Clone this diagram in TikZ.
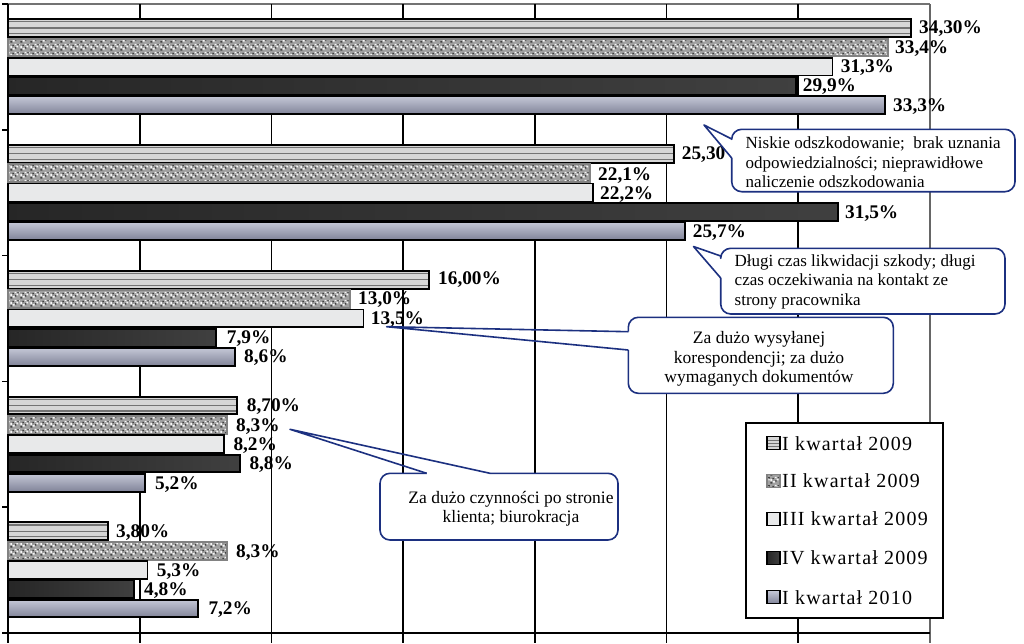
\documentclass[tikz,border=0pt]{standalone}
\usepackage{fontspec}
\setmainfont{Liberation Serif}
\newfontfamily\legfont[LetterSpace=6]{Liberation Serif}
\usetikzlibrary{patterns.meta}
\definecolor{calloutblue}{RGB}{28,48,128}
\definecolor{sAfill}{RGB}{214,214,214}
\definecolor{sBfill}{RGB}{160,160,160}
\definecolor{sBline}{RGB}{130,130,130}
\definecolor{sCfill}{RGB}{232,233,234}
\definecolor{sEtop}{RGB}{196,199,214}
\definecolor{sEmid}{RGB}{238,239,244}
\definecolor{sEbot}{RGB}{128,131,152}
\pgfdeclarepattern{
  name=granite, type=colored,
  bottom left={\pgfpoint{0pt}{0pt}}, top right={\pgfpoint{10pt}{8pt}},
  tile size={\pgfpoint{10pt}{8pt}},
  code={
    \pgfsetfillcolor{black!75}
    \pgfpathrectangle{\pgfpoint{0.5pt}{0.5pt}}{\pgfpoint{2pt}{1.6pt}}
    \pgfpathrectangle{\pgfpoint{5.5pt}{2.5pt}}{\pgfpoint{1.5pt}{1.8pt}}
    \pgfpathrectangle{\pgfpoint{2.5pt}{5.2pt}}{\pgfpoint{1.8pt}{1.4pt}}
    \pgfpathrectangle{\pgfpoint{8pt}{6pt}}{\pgfpoint{1.5pt}{1.5pt}}
    \pgfusepath{fill}
    \pgfsetfillcolor{white!92!gray}
    \pgfpathrectangle{\pgfpoint{3pt}{1.5pt}}{\pgfpoint{2.2pt}{1.6pt}}
    \pgfpathrectangle{\pgfpoint{7pt}{4pt}}{\pgfpoint{2pt}{1.8pt}}
    \pgfpathrectangle{\pgfpoint{0.5pt}{3.5pt}}{\pgfpoint{1.6pt}{1.8pt}}
    \pgfpathrectangle{\pgfpoint{5pt}{6.3pt}}{\pgfpoint{1.9pt}{1.4pt}}
    \pgfusepath{fill}
  }
}
\tikzset{
  fA/.style={fill=sAfill},
  fB/.style={preaction={fill=sBfill}, pattern=granite},
  fC/.style={fill=sCfill},
  fD/.style={left color=black!85, middle color=black!30, right color=black!75},
  fE/.style={top color=sEtop, middle color=sEmid, bottom color=sEbot},
  bA/.style={draw=black, line width=2},
  bB/.style={draw=sBline, line width=2},
  bC/.style={draw=black, line width=1.6},
  bD/.style={draw=black, line width=2},
  bE/.style={draw=black, line width=2},
  stripe/.style={draw=black!55, line width=1.2},
  grid/.style={draw=black, line width=1.6},
  lab/.style={anchor=west, inner sep=0, font=\bfseries\fontsize{19.3}{20}\selectfont},
  callout/.style={draw=calloutblue, line width=1.6, line join=round},
  ctext/.style={inner sep=0, font=\fontsize{17}{19.5}\selectfont},
  legtext/.style={anchor=west, inner sep=0, font=\legfont\fontsize{20}{21}\selectfont},
}
\newcommand\chartbar[5]{%
  \pgfmathsetmacro\yt{4+125.8*#3+14.7+19.3*#4+0.5}%
  \pgfmathsetmacro\yb{\yt+17.8}%
  \pgfmathsetmacro\xe{8+26.34*#5}%
  \path[#1] (8,\yt) rectangle (\xe,\yb);
  \ifnum#4=0 \foreach \dd in {2.6,8.8,14.3}{\draw[stripe] (9,\yt+\dd) -- (\xe-1,\yt+\dd);}\fi
  \draw[#2] (8,\yt) rectangle (\xe,\yb);
}
\newcommand\legmark[3]{%
  \path[#1] (767,#3-6.5) rectangle (780,#3+6.5);
  \draw[#2, line width=1.2] (767,#3-6.5) rectangle (780,#3+6.5);
}
\begin{document}
\begin{tikzpicture}[x=1pt, y=-1pt]
\useasboundingbox (0,0) rectangle (1024,643);
\fill[white] (0,0) rectangle (1024,643);
% frame and grid
\draw[draw=black!55, line width=1.2] (8,4) -- (929.9,4);
\foreach \k in {1,...,6} \draw[grid] (8+131.7*\k,4) -- (8+131.7*\k,643);
\draw[draw=black!60, line width=1.2] (929.9,4) -- (929.9,643);
\draw[grid] (8,633) -- (8,643);
\draw[grid] (2,633) -- (929.9,633);
\draw[draw=black, line width=1.8] (8,4) -- (8,633);
\foreach \k in {0,...,5} \draw[grid] (2,4+125.8*\k) -- (8,4+125.8*\k);
% bars
\foreach \g/\va/\vb/\vc/\vd/\ve in {0/34.3/33.4/31.3/29.9/33.3, 1/25.3/22.1/22.2/31.5/25.7, 2/16.0/13.0/13.5/7.9/8.6, 3/8.7/8.3/8.2/8.8/5.2, 4/3.8/8.3/5.3/4.8/7.2}{
  \chartbar{fA}{bA}{\g}{0}{\va}
  \chartbar{fB}{bB}{\g}{1}{\vb}
  \chartbar{fC}{bC}{\g}{2}{\vc}
  \chartbar{fD}{bD}{\g}{3}{\vd}
  \chartbar{fE}{bE}{\g}{4}{\ve}
}
% value labels
\node[lab] (l11) at (919,29) {34,30\%};
\node[lab] (l12) at (895,49) {33,4\%};
\node[lab] (l13) at (840.7,68) {31,3\%};
\node[lab] (l14) at (802.7,87) {29,9\%};
\node[lab] (l15) at (893,107) {33,3\%};
\node[lab] (l21) at (681.7,155) {25,30};
\node[lab] (l22) at (598,175.7) {22,1\%};
\node[lab] (l23) at (600,195) {22,2\%};
\node[lab] (l24) at (845,214) {31,5\%};
\node[lab] (l25) at (692.7,232.7) {25,7\%};
\node[lab] (l31) at (438,280) {16,00\%};
\node[lab] (l32) at (358,300) {13,0\%};
\node[lab] (l33) at (370.7,320) {13,5\%};
\node[lab] (l34) at (226.7,339) {7,9\%};
\node[lab] (l35) at (244,358) {8,6\%};
\node[lab] (l41) at (246.7,406.7) {8,70\%};
\node[lab] (l42) at (236,426.7) {8,3\%};
\node[lab] (l43) at (233.3,446) {8,2\%};
\node[lab] (l44) at (249.3,465) {8,8\%};
\node[lab] (l45) at (155,485) {5,2\%};
\node[lab] (l51) at (116,532.7) {3,80\%};
\node[lab] (l52) at (236,552.7) {8,3\%};
\node[lab] (l53) at (156.7,571.7) {5,3\%};
\node[lab] (l54) at (144,590.7) {4,8\%};
\node[lab] (l55) at (208.3,610) {7,2\%};
% callout 1
\coordinate (t1) at (704,125);
\coordinate (a1) at (731.7,139);
\coordinate (b1) at (731.7,158);
\fill[white, rounded corners=10] (731.7,129.3) rectangle (1015,191.7);
\draw[callout, rounded corners=10] (b1) -- (731.7,191.7) -- (1015,191.7) -- (1015,129.3) -- (731.7,129.3) -- (a1);
\draw[callout] (a1) -- (t1) -- (b1);
\node[ctext, align=left, anchor=west] (c1) at (745.5,162.5) {Niskie odszkodowanie;\ \ brak uznania\\odpowiedzialności; nieprawidłowe\\naliczenie odszkodowania};
% callout 2
\coordinate (t2) at (693.5,246.5);
\coordinate (a2) at (720.7,256);
\coordinate (b2) at (720.7,278);
\fill[white, rounded corners=10] (720.7,248.3) rectangle (1005,314);
\draw[callout, rounded corners=10] (b2) -- (720.7,314) -- (1005,314) -- (1005,248.3) -- (720.7,248.3) -- (a2);
\draw[callout] (a2) -- (t2) -- (b2);
\node[ctext, align=left, anchor=west] (c2) at (734.5,281.5) {Długi czas likwidacji szkody; długi\\czas oczekiwania na kontakt ze\\strony pracownika};
% callout 3
\coordinate (t3) at (386.7,326.7);
\coordinate (a3) at (628.3,331.7);
\coordinate (b3) at (628.3,350);
\fill[white, rounded corners=10] (628.3,317.3) rectangle (893.3,393.3);
\draw[callout, rounded corners=10] (b3) -- (628.3,393.3) -- (893.3,393.3) -- (893.3,317.3) -- (628.3,317.3) -- (a3);
\draw[callout] (a3) -- (t3) -- (b3);
\node[ctext, align=center, font=\fontsize{17.5}{19.5}\selectfont] (c3) at (759,359) {Za dużo wysyłanej\\korespondencji; za dużo\\wymaganych dokumentów};
% callout 4
\coordinate (t4) at (290,429.3);
\coordinate (a4) at (426.7,473.3);
\coordinate (b4) at (490,473.3);
\fill[white, rounded corners=10] (380,473.3) rectangle (618,540);
\draw[callout, rounded corners=10] (b4) -- (618,473.3) -- (618,540) -- (380,540) -- (380,473.3) -- (a4);
\draw[callout] (a4) -- (t4) -- (b4);
\node[ctext, align=center, font=\fontsize{17.5}{18.5}\selectfont] (c4) at (511,509) {Za dużo czynności po stronie\\klienta; biurokracja};
% legend
\node[draw=black, line width=2, fill=white, minimum width=196.7, minimum height=195, inner sep=0] (legend) at (844.35,520.8) {};
\legmark{fA}{bA}{443.3}
\draw[stripe, line width=0.8] (768,440) -- (779,440) (768,443.3) -- (779,443.3) (768,446.6) -- (779,446.6);
\legmark{fB}{bB}{481}
\legmark{fC}{bC}{519}
\legmark{fD}{bD}{557.7}
\legmark{fE}{bE}{597.3}
\node[legtext] (g1) at (782,443.3) {I kwartał 2009};
\node[legtext] (g2) at (782,481) {II kwartał 2009};
\node[legtext] (g3) at (782,519) {III kwartał 2009};
\node[legtext] (g4) at (782,557.7) {IV kwartał 2009};
\node[legtext] (g5) at (782,597.3) {I kwartał 2010};
\end{tikzpicture}
\end{document}
